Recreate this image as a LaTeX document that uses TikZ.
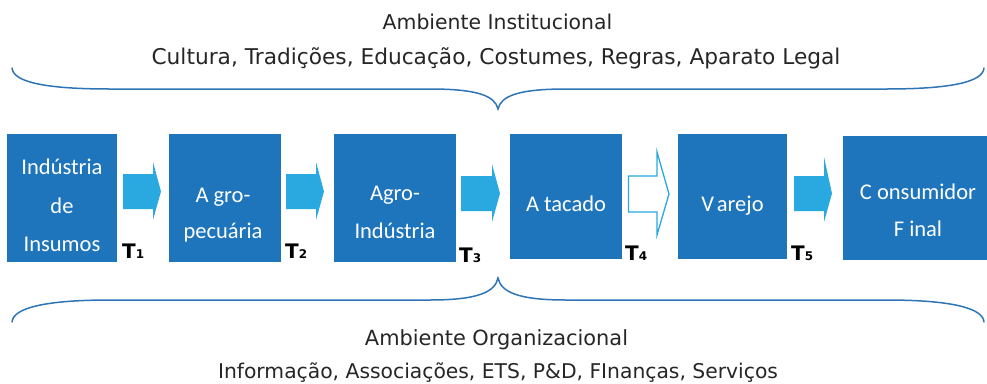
\documentclass[tikz,border=0pt]{standalone}
\usepackage{fontspec}
\setmainfont{DejaVu Sans}
\newfontfamily\boxfont{Carlito}
\definecolor{boxblue}{RGB}{30,117,188}
\definecolor{arrowblue}{RGB}{41,169,224}
\definecolor{bracecol}{RGB}{46,117,182}
\definecolor{txtgray}{RGB}{38,38,38}
\newcommand\tdigit[1]{{\fontsize{12}{12}\selectfont #1}}
\begin{document}
\begin{tikzpicture}[x=1pt,y=-1pt,
  stagebox/.style={fill=boxblue, draw=none, inner sep=0pt},
  stagetext/.style={text=white, align=center, inner sep=0pt,
    font=\boxfont\fontsize{22.5}{37}\selectfont},
  flowarrow/.style={fill=arrowblue, draw=none},
  hollowarrow/.style={fill=white, draw=arrowblue, line width=1.3pt, line join=miter},
  tlabel/.style={anchor=base west, inner sep=0pt, text=black,
    font=\bfseries\fontsize{20}{20}\selectfont},
  headtext/.style={anchor=base, inner sep=0pt, text=txtgray},
  bracestyle/.style={draw=bracecol, line width=1.5pt, line cap=round}
]
\useasboundingbox (0,0) rectangle (987,383);

% header texts
\node[headtext, font=\fontsize{20.4}{24}\selectfont] (ai) at (497.5,29) {Ambiente Institucional};
\node[headtext, font=\fontsize{21.7}{24}\selectfont] (ail) at (496,64) {Cultura, Tradições, Educação, Costumes, Regras, Aparato Legal};

% top brace
\draw[bracestyle] (12,68) .. controls (13,82) and (45,89) .. (110,89)
  -- (430,89) .. controls (478,89) and (495,96) .. (498,109)
  .. controls (501,96) and (518,89) .. (566,89)
  -- (886,89) .. controls (951,89) and (983,82) .. (984,68);

% stage boxes
\node[stagebox, minimum width=110pt, minimum height=128pt] (b1) at (62,198) {};
\node[stagebox, minimum width=112pt, minimum height=128pt] (b2) at (225,198) {};
\node[stagebox, minimum width=122pt, minimum height=128pt] (b3) at (395,198) {};
\node[stagebox, minimum width=112pt, minimum height=125pt] (b4) at (566,196.5) {};
\node[stagebox, minimum width=109pt, minimum height=125pt] (b5) at (732.5,196.5) {};
\node[stagebox, minimum width=144pt, minimum height=124pt] (b6) at (915,198) {};

\node[stagetext, font=\boxfont\fontsize{22.5}{38.5}\selectfont] (s1) at (62,205.5) {Indústria\\de\\Insumos};
\node[stagetext, font=\boxfont\fontsize{22.5}{36}\selectfont] (s2) at (223,215) {A gro-\\pecuária};
\node[stagetext, font=\boxfont\fontsize{22.5}{38}\selectfont] (s3) at (395,212) {Agro-\\Indústria};
\node[stagetext] (s4) at (566,203.3) {A tacado};
\node[stagetext] (s5) at (732.5,206) {V\hspace{0.12em}arejo};
\node[stagetext] (s6) at (918,209.8) {C onsumidor\\F inal};

% block arrows between boxes
\fill[flowarrow] (123,174) -- (153,174) -- (153,162) -- (161,191.5) -- (153,220) -- (153,209) -- (123,209) -- cycle;
\fill[flowarrow] (286,174) -- (316,174) -- (316,162) -- (324,191.5) -- (316,220) -- (316,209) -- (286,209) -- cycle;
\fill[flowarrow] (461,176) -- (492,176) -- (492,164) -- (500,193.5) -- (492,222) -- (492,211) -- (461,211) -- cycle;
\draw[hollowarrow] (628.5,176) -- (657,176) -- (657,152) -- (669,194) -- (657,235) -- (657,212) -- (628.5,212) -- cycle;
\fill[flowarrow] (794,176) -- (824,176) -- (824,157) -- (832,193.5) -- (824,222) -- (824,211) -- (794,211) -- cycle;

% transaction labels
\node[tlabel] (T1) at (122,258) {T\tdigit{1}};
\node[tlabel] (T2) at (285,258) {T\tdigit{2}};
\node[tlabel] (T3) at (459,262) {T\tdigit{3}};
\node[tlabel] (T4) at (625,260) {T\tdigit{4}};
\node[tlabel] (T5) at (791,260) {T\tdigit{5}};

% bottom brace
\draw[bracestyle] (12,322) .. controls (13,308) and (45,300) .. (110,300)
  -- (430,300) .. controls (478,300) and (495,292) .. (498,278)
  .. controls (501,292) and (518,300) .. (566,300)
  -- (886,300) .. controls (951,300) and (983,308) .. (984,322);

% bottom texts
\node[headtext, font=\fontsize{20.9}{24}\selectfont] (ao) at (496.5,345) {Ambiente Organizacional};
\node[headtext, font=\fontsize{20.3}{24}\selectfont] (aol) at (498,378) {Informação, Associações, ETS, P\&D, FInanças, Serviços};
\end{tikzpicture}
\end{document}
